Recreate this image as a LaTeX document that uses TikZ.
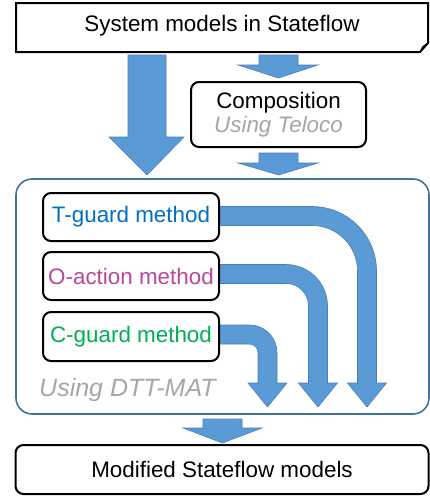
\documentclass[tikz,border=0pt]{standalone}
\usepackage{fontspec}
\setmainfont{Liberation Sans}
\definecolor{arrfill}{HTML}{5B9BD5}
\definecolor{arrdraw}{HTML}{4A7EBB}
\definecolor{contdraw}{HTML}{41719C}
\definecolor{tblue}{HTML}{0070C0}
\definecolor{omag}{HTML}{B9479B}
\definecolor{cgreen}{HTML}{00B050}
\definecolor{usegray}{HTML}{A6A6A6}
\newcommand{\bentarr}[5]{% #1 x0, #2 yc, #3 xc, #4 Rc, #5 w
  \pgfmathsetmacro{\Ro}{#4+#5}\pgfmathsetmacro{\Ri}{#4-#5}%
  \fill[arrowsty] (#1,{#2-#5}) -- ({#3-#4},{#2-#5})
    .. controls ({#3-#4+0.5523*\Ro},{#2-#5}) and ({#3+#5},{#2+#4-0.5523*\Ro}) .. ({#3+#5},{#2+#4})
    -- ({#3+#5},383) -- ({#3+19.5},383) -- (#3,407) -- ({#3-19.5},383) -- ({#3-#5},383)
    -- ({#3-#5},{#2+#4})
    .. controls ({#3-#5},{#2+#4-0.5523*\Ri}) and ({#3-#4+0.5523*\Ri},{#2+#5}) .. ({#3-#4},{#2+#5})
    -- (#1,{#2+#5}) -- cycle;}
\begin{document}
\begin{tikzpicture}[x=1pt,y=-1pt,
  arrowsty/.style={fill=arrfill,draw=arrdraw,line width=0.6pt,line join=miter},
  box/.style={draw=black,line width=2pt,rounded corners=8pt,inner sep=0pt},
  txt/.style={font=\fontsize{22.4}{25}\selectfont},
  ]
\useasboundingbox (0,0) rectangle (430,496);
% container
\draw[contdraw,line width=1.6pt,rounded corners=16pt] (16,179) rectangle (429,414);
% straight arrows
\fill[arrowsty] (128,55) -- (166,55) -- (166,137) -- (184,137) -- (147,175) -- (109,137) -- (128,137) -- cycle;
\fill[arrowsty] (259,55) -- (298,55) -- (298,65) -- (318,65) -- (278.5,78) -- (238,65) -- (259,65) -- cycle;
\fill[arrowsty] (259,153) -- (298,153) -- (298,163) -- (318,163) -- (278.5,175) -- (238,163) -- (259,163) -- cycle;
\fill[arrowsty] (203,419) -- (242,419) -- (242,428) -- (262,428) -- (222.5,443) -- (183,428) -- (203,428) -- cycle;
% bent arrows
\bentarr{215}{216}{367}{55}{9.5}
\bentarr{215}{274}{318}{32}{9.5}
\bentarr{215}{334.5}{267.5}{18}{9.5}
% top box with folded corner
\node[txt,inner sep=0pt] (sys) at (222,26) {System models in Stateflow};
\draw[line width=2pt,line join=miter] (16,3) -- (428,3) -- (428,43) -- (420,52) -- (16,52) -- cycle;
\fill (420,52) .. controls (421,47) and (423,45) .. (428,43) .. controls (425,47) and (424,49) .. cycle;
% composition
\node[box,txt,fill=white,minimum width=175pt,minimum height=65pt,align=center] (comp) at (278.5,114.5)
  {Composition\\[-1pt]{\color{usegray}\itshape Using Teloco}};
% method boxes
\node[box,txt,fill=white,minimum width=176pt,minimum height=48pt,text=tblue] (tg) at (131,217) {T-guard method};
\node[box,txt,fill=white,minimum width=176pt,minimum height=48pt,text=omag] (oa) at (131,276) {O-action method};
\node[box,txt,fill=white,minimum width=176pt,minimum height=49pt,text=cgreen] (cg) at (131,336.5) {C-guard method};
\node[anchor=west,inner sep=0pt,text=usegray,font=\fontsize{25}{28}\selectfont\itshape] (dtt) at (39,390) {Using DTT-MAT};
% bottom box
\node[box,txt,minimum width=413pt,minimum height=49pt] (mod) at (222,469.5) {Modified Stateflow models};
\end{tikzpicture}
\end{document}
